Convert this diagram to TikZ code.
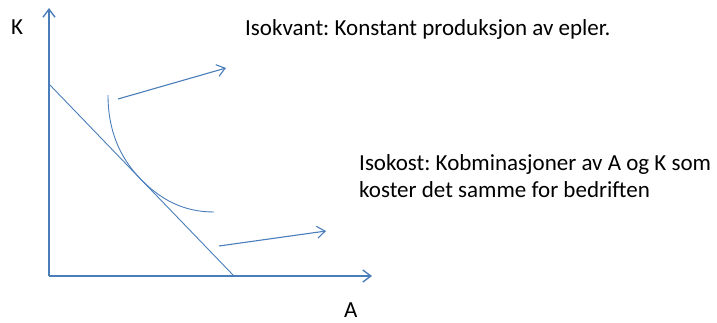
\documentclass[tikz,border=0pt]{standalone}
\usepackage{fontspec}
\setmainfont{Carlito}
\frenchspacing
\usetikzlibrary{arrows.meta}
\definecolor{lineblue}{HTML}{4A7EBB}
\begin{document}
\begin{tikzpicture}[x=1pt,y=-1pt,
  axis/.style={draw=lineblue,line width=1.4pt,-{Straight Barb[length=8pt,width=12pt]}},
  thin/.style={draw=lineblue,line width=0.9pt},
  pointer/.style={draw=lineblue,line width=1.1pt,-{Straight Barb[length=8pt,width=12pt]}},
  lbl/.style={anchor=base west,inner sep=0pt,font=\fontsize{23}{27}\selectfont,text=black,align=left}]
\useasboundingbox (0,0) rectangle (717,322);
% axes
\coordinate (O) at (49,276);
\coordinate (Ktop) at (49,8);
\coordinate (Aend) at (372,276);
\draw[axis] (O) -- (Ktop);
\draw[axis] (O) -- (Aend);
% isocost line
\coordinate (c1) at (49,84);
\coordinate (c2) at (234,276);
\draw[thin] (c1) -- (c2);
% isoquant curve, tangent to the isocost line at T
\coordinate (q1) at (108,95);
\coordinate (T) at (140,178.4);
\coordinate (q2) at (214,212);
\draw[thin] (q1) .. controls (108,132) and (121,158.7) .. (T)
                 .. controls (160,199.2) and (183,212) .. (q2);
% pointer arrows
\coordinate (a1s) at (118,99);
\coordinate (a1e) at (226,68);
\coordinate (a2s) at (219,246);
\coordinate (a2e) at (326,231);
\draw[pointer] (a1s) -- (a1e);
\draw[pointer] (a2s) -- (a2e);
% labels
\node[lbl] (K) at (11,34) {K};
\node[lbl] (A) at (344,317) {A};
\node[lbl] (isokvant) at (245,35) {Isokvant: Konstant produksjon av epler.};
\node[lbl] (isokost) at (359,197) {Isokost: Kobminasjoner av A og K som\\koster det samme for bedriften};
\end{tikzpicture}
\end{document}
